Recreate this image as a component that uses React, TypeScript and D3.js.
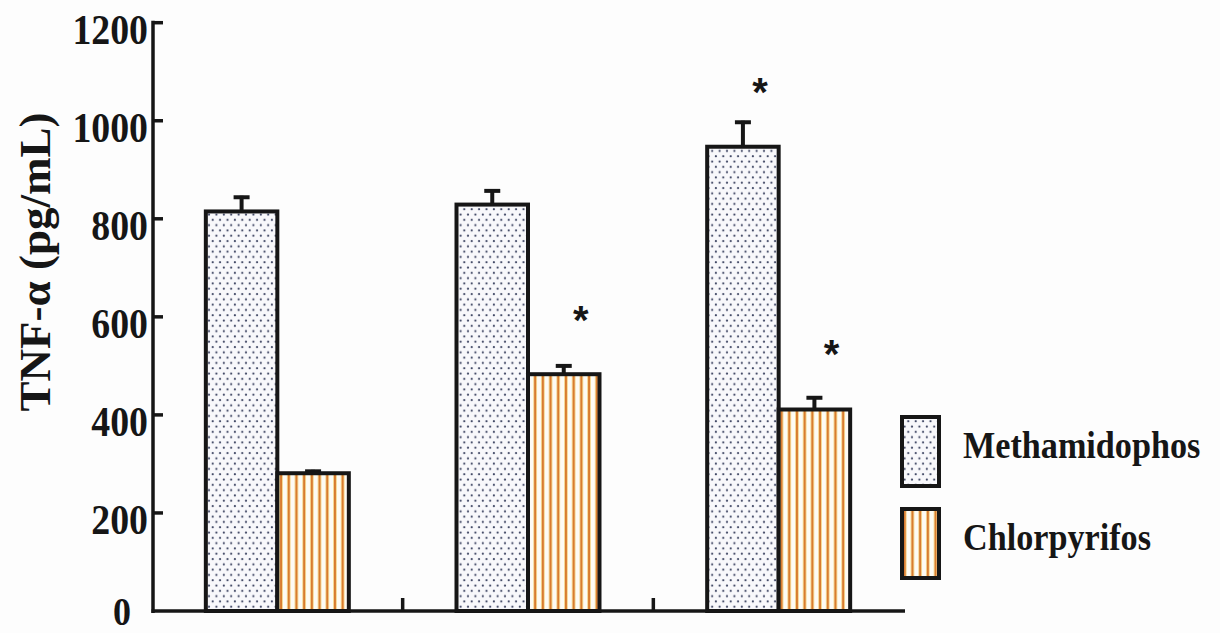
import React from 'react';
import * as d3 from 'd3';

const groups = ['A', 'B', 'C'];
const series = ['Methamidophos', 'Chlorpyrifos'];
const methValues = [815, 829, 947];
const methErrors = [32, 31, 53];
const chlorValues = [281, 483, 411];
const chlorErrors = [7, 20, 27];
const methStars = [null, null, 1078];
const chlorStars = [null, 611, 542];
const yTicks = [0, 200, 400, 600, 800, 1000, 1200];
const yLabel = 'TNF-α (pg/mL)';

const W = 1220;
const H = 633;
const FONT = '"Liberation Serif", "Times New Roman", serif';
const INK = '#161616';

export default function App() {
  const x0 = d3.scaleBand<string>().domain(groups).range([152, 904]).padding(0);
  const x1 = d3
    .scaleBand<string>()
    .domain(series)
    .range([0, x0.bandwidth()])
    .paddingInner(0)
    .paddingOuter(0.753);
  const y = d3.scaleLinear().domain([0, 1200]).range([611, 22.7]);

  const seriesData = [
    { name: series[0], values: methValues, errors: methErrors, stars: methStars, fill: 'url(#dots)' },
    { name: series[1], values: chlorValues, errors: chlorErrors, stars: chlorStars, fill: 'url(#stripes)' },
  ];

  const bw = x1.bandwidth();
  const boundaries = groups.slice(1).map((g) => x0(g) as number);

  return (
    <svg
      width={W}
      height={H}
      style={{ position: 'absolute', left: 0, top: 0, background: '#fdfdfd' }}
    >
      <defs>
        <pattern id="dots" patternUnits="userSpaceOnUse" width="7.4" height="10.6">
          <rect width="7.4" height="10.6" fill="#f8f8fb" />
          <circle cx="1.8" cy="2.6" r="1.1" fill="#3f4663" />
          <circle cx="5.5" cy="7.9" r="1.1" fill="#3f4663" />
        </pattern>
        <pattern id="stripes" patternUnits="userSpaceOnUse" width="7.7" height="10">
          <rect width="7.7" height="10" fill="#fdfbf4" />
          <rect x="2.3" width="3.1" height="10" fill="#f0c158" />
          <rect x="3.0" width="1.7" height="10" fill="#d5732a" />
        </pattern>
      </defs>

      {/* bars */}
      {seriesData.map((s) =>
        groups.map((g, i) => {
          const bx = (x0(g) as number) + (x1(s.name) as number);
          const top = y(s.values[i]);
          const cx = bx + bw / 2;
          const et = y(s.values[i] + s.errors[i]);
          return (
            <g key={s.name + g}>
              <line x1={cx} x2={cx} y1={top} y2={et} stroke={INK} strokeWidth={4} />
              <line x1={cx - 8} x2={cx + 8} y1={et + 1.5} y2={et + 1.5} stroke={INK} strokeWidth={4} />
              <rect
                x={bx}
                y={top}
                width={bw}
                height={y(0) - top}
                fill={s.fill}
                stroke={INK}
                strokeWidth={4}
              />
              {s.stars[i] != null && (
                <text
                  x={cx + 17}
                  y={y(s.stars[i] as number) + 23}
                  textAnchor="middle"
                  fontFamily='"Liberation Sans", Arial, sans-serif'
                  fontWeight="bold"
                  fontSize={40}
                  fill={INK}
                >
                  *
                </text>
              )}
            </g>
          );
        })
      )}

      {/* y axis */}
      <line x1={153} x2={153} y1={y(1200) - 2} y2={y(0) + 2} stroke={INK} strokeWidth={3.5} />
      {yTicks.map((t) => (
        <g key={t}>
          {t > 0 && <line x1={153} x2={163} y1={y(t)} y2={y(t)} stroke={INK} strokeWidth={3.5} />}
          <text
            transform={`translate(${t === 0 ? 131 : 148},${y(t) + (t === 0 ? 14 : 21)}) scale(0.9,1)`}
            textAnchor="end"
            fontFamily={FONT}
            fontWeight="bold"
            fontSize={t === 0 ? 40 : 42}
            fill={INK}
          >
            {t}
          </text>
        </g>
      ))}

      {/* x axis */}
      <line x1={151.5} x2={905} y1={y(0)} y2={y(0)} stroke={INK} strokeWidth={3.5} />
      {boundaries.map((bx, i) => (
        <line key={i} x1={bx} x2={bx} y1={y(0)} y2={y(0) - 13} stroke={INK} strokeWidth={3.5} />
      ))}

      {/* y label */}
      <text
        transform={`translate(50,262) rotate(-90)`}
        textAnchor="middle"
        fontFamily={FONT}
        fontWeight="bold"
        fontSize={45}
        fill={INK}
      >
        {yLabel}
      </text>

      {/* legend */}
      {seriesData.map((s, i) => {
        const ly = 417 + i * 92;
        return (
          <g key={s.name}>
            <rect x={902} y={ly} width={37} height={69} fill={s.fill} stroke={INK} strokeWidth={4} />
            <text
              transform={`translate(963,${ly + 41}) scale(0.9,1)`}
              fontFamily={FONT}
              fontWeight="bold"
              fontSize={38}
              fill={INK}
            >
              {s.name}
            </text>
          </g>
        );
      })}
    </svg>
  );
}
